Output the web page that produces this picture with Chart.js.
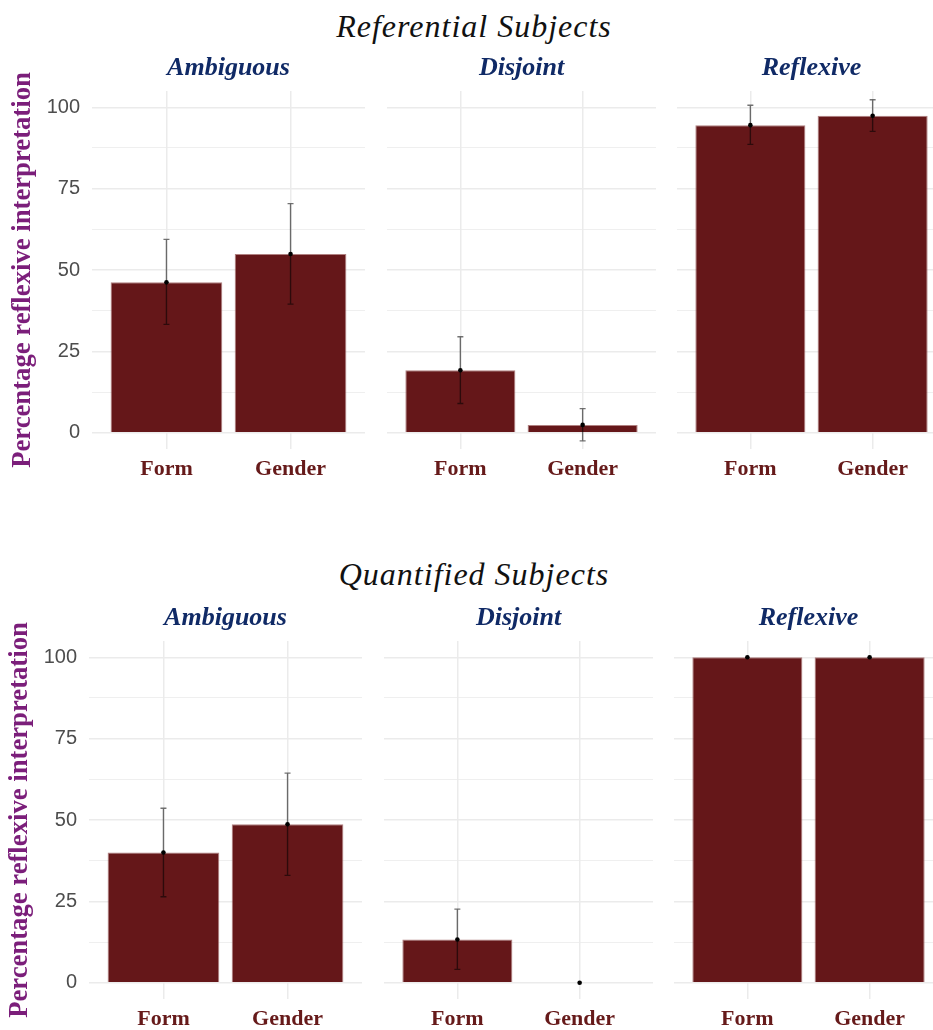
<!DOCTYPE html>
<html><head><meta charset="utf-8">
<script src="https://cdn.jsdelivr.net/npm/chart.js@4.4.1/dist/chart.umd.min.js"></script>
<style>
html,body{margin:0;padding:0;background:#fff;overflow:hidden;width:933px;height:1030px;}
#wrap{position:relative;width:933px;height:1030px;overflow:hidden;background:#fff;}
.main{position:absolute;left:0;width:948px;text-align:center;font-family:'Liberation Serif',serif;font-style:italic;font-size:32px;line-height:32px;letter-spacing:1px;color:#111;white-space:nowrap;}
canvas{position:absolute;}
</style></head><body><div id="wrap"></div>
<script>
// ---- data ----
const categories = ['Form', 'Gender'];
const facets = ['Ambiguous', 'Disjoint', 'Reflexive'];
const rowTitles = ['Referential Subjects', 'Quantified Subjects'];
const yAxisTitle = 'Percentage reflexive interpretation';
const yTickLabels = [0, 25, 50, 75, 100];
const yMinorTicks = [12.5, 37.5, 62.5, 87.5];

// Referential subjects: [Form, Gender] per facet
const refMean = [[46.2, 54.9], [19.2, 2.4], [94.5, 97.4]];
const refLow  = [[33.3, 39.5], [9.0, -2.5], [88.6, 92.6]];
const refHigh = [[59.4, 70.4], [29.5, 7.4], [100.6, 102.3]];

// Quantified subjects
const quaMean = [[40.0, 48.7], [13.3, 0], [100, 100]];
const quaLow  = [[26.4, 33.0], [4.1, 0], [100, 100]];
const quaHigh = [[53.6, 64.4], [22.6, 0], [100, 100]];

// ---- layout / style ----
const BAR = '#651719';
const GRID = '#ebebeb';
const PW = 277;
const rows = [
  {title: rowTitles[0], mean: refMean, low: refLow, high: refHigh, top: 40, titleTop: 10, lefts: [92, 383, 673], yTitlePad: 6.7},
  {title: rowTitles[1], mean: quaMean, low: quaLow, high: quaHigh, top: 590, titleTop: 558, lefts: [89, 380, 670], yTitlePad: 4.0}
];

const errorBarPlugin = {
  id: 'errbars',
  afterDatasetDraw(chart, args, opts) {
    if (args.meta.type !== 'bar') return;
    const {ctx, scales: {x, y}} = chart;
    ctx.save();
    ctx.strokeStyle = 'rgba(0,0,0,0.55)';
    ctx.lineWidth = 1.4;
    opts.low.forEach((lo, i) => {
      const hi = opts.high[i];
      if (hi === lo) return;
      const px = x.getPixelForValue(i);
      const yl = y.getPixelForValue(lo), yh = y.getPixelForValue(hi);
      ctx.beginPath();
      ctx.moveTo(px, yl); ctx.lineTo(px, yh);
      ctx.moveTo(px - 3, yl); ctx.lineTo(px + 3, yl);
      ctx.moveTo(px - 3, yh); ctx.lineTo(px + 3, yh);
      ctx.stroke();
    });
    ctx.restore();
  }
};

const wrap = document.getElementById('wrap');

rows.forEach(row => {
  const t = document.createElement('div');
  t.className = 'main';
  t.style.top = row.titleTop + 'px';
  t.textContent = row.title;
  wrap.appendChild(t);

  facets.forEach((facet, f) => {
    const first = f === 0;
    const left = first ? 0 : row.lefts[f];
    const width = first ? row.lefts[f] + PW : PW;
    const height = 470;
    const cv = document.createElement('canvas');
    cv.width = width; cv.height = height;
    cv.style.width = width + 'px'; cv.style.height = height + 'px';
    cv.style.left = left + 'px'; cv.style.top = row.top + 'px';
    wrap.appendChild(cv);

    const pts = categories.map((c, i) => ({x: i, y: row.mean[f][i]}));

    new Chart(cv, {
      type: 'bar',
      data: {
        datasets: [
          {type: 'scatter', data: pts, pointRadius: 2.3, pointBackgroundColor: '#000', pointBorderWidth: 0, order: 0},
          {type: 'bar', data: pts, backgroundColor: BAR, borderColor: 'rgba(150,85,85,0.75)', borderWidth: 1,
           categoryPercentage: 1, barPercentage: 0.9, order: 1}
        ]
      },
      options: {
        responsive: false, animation: false, devicePixelRatio: 1,
        layout: {padding: 0},
        plugins: {
          legend: {display: false},
          tooltip: {enabled: false},
          title: {
            display: true, text: facet, fullSize: false, color: '#102a66',
            font: {family: 'Liberation Serif', size: 26, weight: 'bold', style: 'italic', lineHeight: 1.2},
            padding: {top: 12.9, bottom: 6.9}
          },
          errbars: {low: row.low[f], high: row.high[f]}
        },
        scales: {
          x: {
            type: 'linear', min: -0.6, max: 1.6, bounds: 'data', offset: false,
            afterBuildTicks: s => { s.ticks = categories.map((c, i) => ({value: i})); },
            ticks: {
              callback: v => categories[v], autoSkip: false, maxRotation: 0, padding: 7,
              font: {family: 'Liberation Serif', size: 22, weight: 'bold'}, color: '#661a1a'
            },
            grid: {color: GRID, lineWidth: 1.5, drawTicks: false, offset: false},
            border: {display: false},
            afterFit: s => { s.height = 61; }
          },
          y: {
            min: -5, max: 105, bounds: 'data',
            afterBuildTicks: s => {
              s.ticks = yTickLabels.concat(yMinorTicks).sort((a, b) => a - b).map(v => ({value: v}));
            },
            ticks: {
              display: first, autoSkip: false, padding: 12,
              callback: v => yTickLabels.includes(v) ? String(v) : '',
              font: {family: 'Liberation Sans', size: 20}, color: '#4d4d4d'
            },
            grid: {
              color: GRID, drawTicks: false,
              lineWidth: ctx => (ctx.tick && yTickLabels.includes(ctx.tick.value)) ? 1.5 : 0.8
            },
            border: {display: false},
            title: {
              display: first, text: yAxisTitle, color: '#7b1e7a',
              font: {family: 'Liberation Serif', size: 26.7, weight: 'bold', lineHeight: 1.2},
              padding: {top: row.yTitlePad, bottom: 0}
            },
            afterFit: s => { s.width = first ? row.lefts[0] : 0; }
          }
        }
      },
      plugins: [errorBarPlugin]
    });
  });
});
</script>
</body></html>
